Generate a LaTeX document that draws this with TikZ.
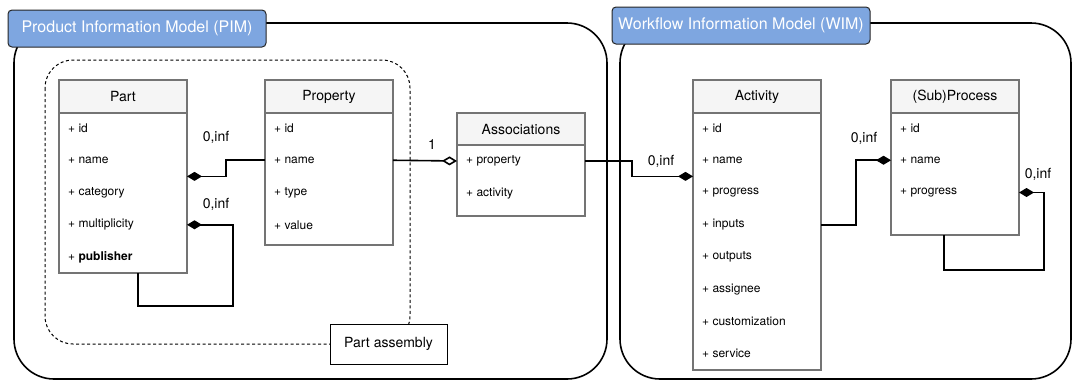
\documentclass[tikz,border=0pt]{standalone}
\usepackage{fontspec}
\setmainfont{TeX Gyre Heros}
\usetikzlibrary{arrows.meta,positioning,calc}
\definecolor{titleblue}{HTML}{7EA6E0}
\definecolor{headgray}{HTML}{F5F5F5}
\definecolor{boxgray}{HTML}{747474}

\begin{document}
\begin{tikzpicture}[x=1pt,y=-1pt,
	frame/.style={draw=black,line width=1.6pt,rounded corners=40pt},
	title/.style={draw=black!85,fill=titleblue,rounded corners=4pt,line width=1pt,text=white,font=\fontsize{16}{19}\selectfont,minimum width=258pt,minimum height=37pt,anchor=north west,outer sep=0pt},
	head/.style={draw=boxgray,fill=headgray,line width=1.8pt,minimum width=128pt,minimum height=33pt,font=\fontsize{14}{16}\selectfont,anchor=north west,outer sep=0pt},
	body/.style={draw=boxgray,fill=white,line width=1.8pt,minimum width=128pt,outer sep=0pt},
	row/.style={anchor=west,font=\fontsize{12}{14}\selectfont,inner sep=0pt},
	link/.style={line width=1.6pt},
	comp/.style={-{Diamond[length=15pt,width=9pt]}},
	aggr/.style={-{Diamond[open,fill=white,length=15pt,width=9pt]}},
	mult/.style={font=\fontsize{14}{16}\selectfont}
	]
	\useasboundingbox (0,0) rectangle (1072,381);
	% frames
	\draw[frame] (14,23) rectangle (607,379);
	\draw[frame] (620,23) rectangle (1071,379);
	\node[title] (pim) at (8,10) {Product Information Model (PIM)};
	\node[title] (wim) at (612,7) {Workflow Information Model (WIM)};
	% part assembly
	\draw[line width=1pt,dash pattern=on 3pt off 2.5pt,rounded corners=28pt] (45,60) rectangle (410,344);
	\node[draw,fill=white,line width=1pt,minimum width=117pt,minimum height=40pt,font=\fontsize{14}{16}\selectfont] (asm) at (388.5,344) {Part assembly};
	% Part
	\node[head] (parthead) at (59,80) {Part};
	\node[body,minimum height=160pt,below=0pt of parthead] (partbody) {};
	\foreach \t [count=\i] in {id,name,category,multiplicity}
		\node[row] (part\i) at (68,{128+32.25*(\i-1)}) {+ \t};
	\node[row] (part5) at (68,257) {+ \textbf{publisher}};
	% Property
	\node[head] (prophead) at (265,80) {Property};
	\node[body,minimum height=132pt,below=0pt of prophead] (propbody) {};
	\foreach \t [count=\i] in {id,name,type,value}
		\node[row] (prop\i) at (274,{128+32.25*(\i-1)}) {+ \t};
	% Associations
	\node[head,minimum height=32pt] (assochead) at (457,113) {Associations};
	\node[body,minimum height=71pt,below=0pt of assochead] (assocbody) {};
	\foreach \t [count=\i] in {property,activity}
		\node[row] (assoc\i) at (466,{161+32.25*(\i-1)}) {+ \t};
	% Activity
	\node[head] (acthead) at (693,80) {Activity};
	\node[body,minimum height=257pt,below=0pt of acthead] (actbody) {};
	\foreach \t [count=\i] in {id,name,progress,inputs,outputs,assignee,customization,service}
		\node[row] (act\i) at (702,{128+32.25*(\i-1)}) {+ \t};
	% (Sub)Process
	\node[head] (subhead) at (891,80) {(Sub)Process};
	\node[body,minimum height=122pt,below=0pt of subhead] (subbody) {};
	\foreach \t [count=\i] in {id,name,progress}
		\node[row] (sub\i) at (900,{128+32.25*(\i-1)}) {+ \t};
	% connectors
	\draw[link,aggr] (propbody.east |- prop2) -- (assocbody.west |- assoc1);
	\draw[link,comp] (propbody.west |- prop2) -- ++(-39,0) |- ($(partbody.east |- part2)!0.5!(partbody.east |- part3)$);
	\draw[link,comp] ($(partbody.south)+(15,0)$) -- ++(0,33) -| ($(partbody.east |- part4)+(46,0)$) -- (partbody.east |- part4);
	\draw[link,comp] (assocbody.east |- assoc1) -- ++(47,0) |- ($(actbody.west |- act2)!0.5!(actbody.west |- act3)$);
	\draw[link,comp] (actbody.east |- act4) -- ++(35,0) |- (subbody.west |- sub2);
	\draw[link,comp] ($(subbody.south)+(-11,0)$) -- ++(0,35) -| ($(subbody.east |- sub3)+(25,0)$) -- (subbody.east |- sub3);
	% multiplicities
	\node[mult] (m1) at (432,145) {1};
	\node[mult] (m2) at (216,137) {0,inf};
	\node[mult] (m3) at (216,204) {0,inf};
	\node[mult] (m4) at (661,161) {0,inf};
	\node[mult] (m5) at (864,138) {0,inf};
	\node[mult] (m6) at (1038,174) {0,inf};
\end{tikzpicture}
\end{document}
